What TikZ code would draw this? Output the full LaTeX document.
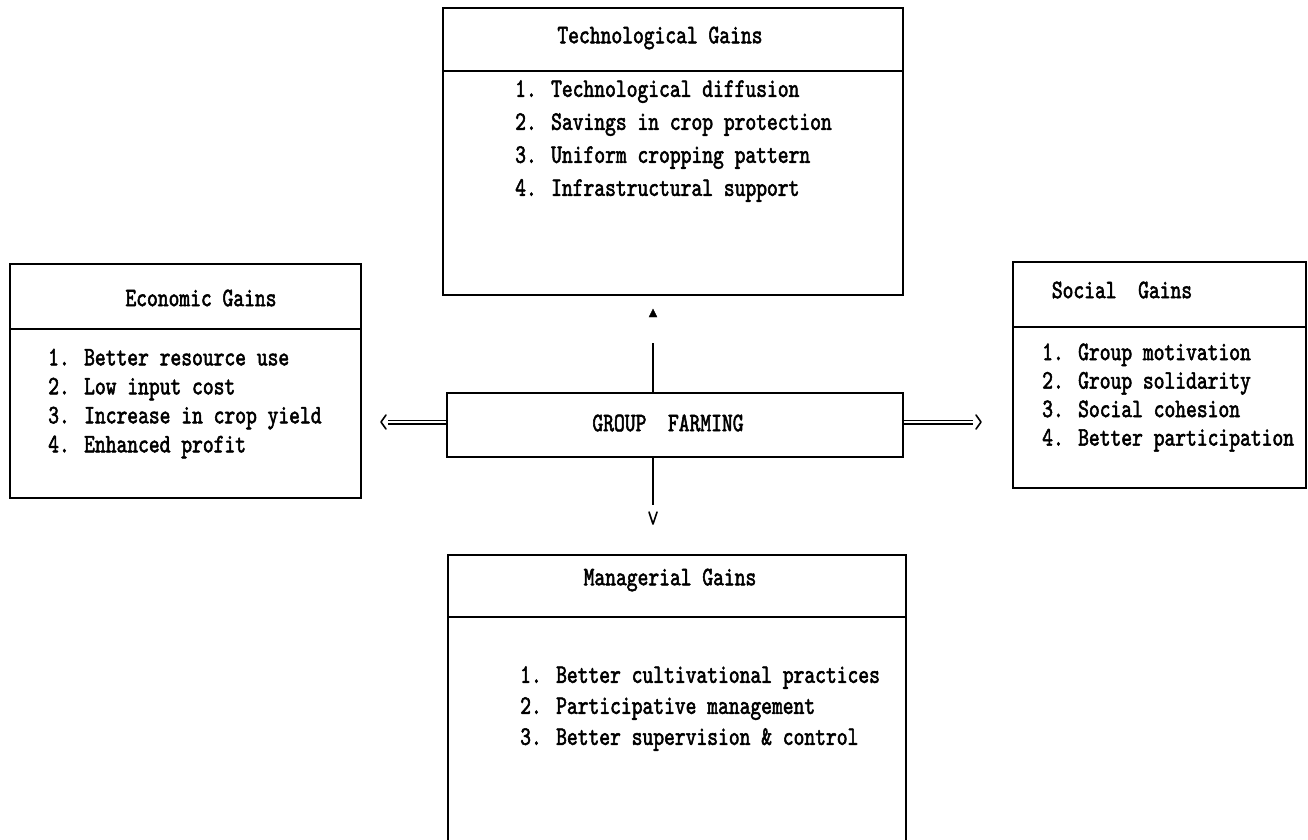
\documentclass[tikz,border=0pt]{standalone}
\usepackage{fontspec}
\newfontfamily\dotfont[FakeStretch=0.77,FakeBold=2]{lmmono10-regular.otf}
\begin{document}
\begin{tikzpicture}[x=1pt,y=-1pt,
  box/.style={draw, line width=1.8pt, inner sep=0pt},
  hdr/.style={font=\dotfont\fontsize{26.7}{28}\selectfont, inner sep=0pt},
  lst/.style={font=\dotfont\fontsize{26.7}{#1}\selectfont, align=left, inner sep=0pt, anchor=west},
  conn/.style={line width=2pt},
  dbl/.style={double, double distance=2.2pt, line width=1.4pt},
  tipst/.style={line width=1.6pt, line cap=round, line join=round}]
\useasboundingbox (0,0) rectangle (1308,839);
\clip (0,0) rectangle (1308,839);
% Technological
\node[box, minimum width=460pt, minimum height=63pt] (techH) at (673,39.5) {};
\node[box, minimum width=460pt, minimum height=224pt] (techB) at (673,183) {};
\node[hdr] (techT) at (660,38) {Technological Gains};
\node[lst=33] (techL) at (515,141) {1. Technological diffusion\\2. Savings in crop protection\\3. Uniform cropping pattern\\4. Infrastructural support};
% Economic
\node[box, minimum width=351pt, minimum height=65pt] (ecoH) at (185.5,296.5) {};
\node[box, minimum width=351pt, minimum height=169pt] (ecoB) at (185.5,413.5) {};
\node[hdr] (ecoT) at (201,298) {Economic Gains};
\node[lst=29] (ecoL) at (48,403.5) {1. Better resource use\\2. Low input cost\\3. Increase in crop yield\\4. Enhanced profit};
% Social
\node[box, minimum width=293pt, minimum height=65pt] (socH) at (1159.5,294.5) {};
\node[box, minimum width=293pt, minimum height=161pt] (socB) at (1159.5,407.5) {};
\node[hdr] (socT) at (1122,290) {Social\ \ Gains};
\node[lst=28.5] (socL) at (1042,397.5) {1. Group motivation\\2. Group solidarity\\3. Social cohesion\\4. Better participation};
% Group farming
\node[box, minimum width=456pt, minimum height=64pt] (g) at (675,425) {};
\node[hdr] (gT) at (668,423) {GROUP\ \ FARMING};
% Managerial
\node[box, minimum width=458pt, minimum height=62pt] (manH) at (677,586) {};
\node[box, minimum width=458pt, minimum height=240pt] (manB) at (677,737) {};
\node[hdr] (manT) at (670,580) {Managerial Gains};
\node[lst=31] (manL) at (520,708.5) {1. Better cultivational practices\\2. Participative management\\3. Better supervision \& control};
% connectors
\coordinate (upEnd) at (653,343);
\coordinate (dnEnd) at (653,505);
\coordinate (lEnd) at (388,422);
\coordinate (rEnd) at (973,422);
\draw[conn] (upEnd |- g.north) -- (upEnd);
\draw[fill] (649,317) -- (653,309) -- (657,317) -- cycle;
\draw[conn] (dnEnd |- g.south) -- (dnEnd);
\draw[tipst] (649,512) -- (653,524) -- (657,512);
\draw[dbl] (lEnd -| g.west) -- (lEnd);
\draw[tipst] (386,415) -- (381,422) -- (386,429);
\draw[dbl] (rEnd -| g.east) -- (rEnd);
\draw[tipst] (976,415) -- (981,422) -- (976,429);
\end{tikzpicture}
\end{document}
